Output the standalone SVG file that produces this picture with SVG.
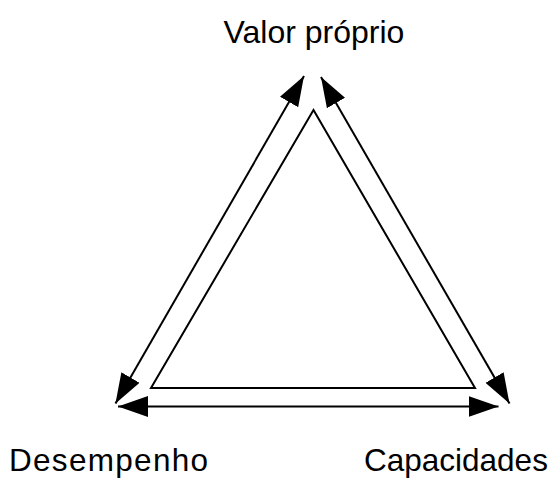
<svg xmlns="http://www.w3.org/2000/svg" width="559" height="479" viewBox="0 0 559 479">
<style>
.lbl{font-family:"Liberation Sans",Arial,sans-serif;font-size:31.5px;fill:#000}
.conn{stroke:#000;stroke-width:2;fill:none}
</style>
<defs>
<marker id="ah" markerUnits="userSpaceOnUse" markerWidth="31" markerHeight="21" refX="30" refY="10.5" orient="auto-start-reverse" viewBox="0 0 31 21">
<path d="M0,0 L30,10.5 L0,21 z" fill="#000"/>
</marker>
</defs>
<rect width="559" height="479" fill="#fff"/>
<g id="triangle">
<polygon points="313.5,110 151,388 475,388" class="conn" stroke-linejoin="miter"/>
</g>
<g id="connectors">
<line x1="304" y1="76" x2="115.5" y2="403.5" class="conn" marker-start="url(#ah)" marker-end="url(#ah)"/>
<line x1="321" y1="77" x2="509.5" y2="403.5" class="conn" marker-start="url(#ah)" marker-end="url(#ah)"/>
<line x1="118" y1="406.5" x2="498.5" y2="406.5" class="conn" marker-start="url(#ah)" marker-end="url(#ah)"/>
</g>
<g id="node-valor">
<text class="lbl" x="314" y="43" text-anchor="middle" style="font-size:32px">Valor próprio</text>
</g>
<g id="node-desempenho">
<text class="lbl" x="9" y="471" letter-spacing="1.3">Desempenho</text>
</g>
<g id="node-capacidades">
<text class="lbl" x="364" y="471">Capacidades</text>
</g>
</svg>
